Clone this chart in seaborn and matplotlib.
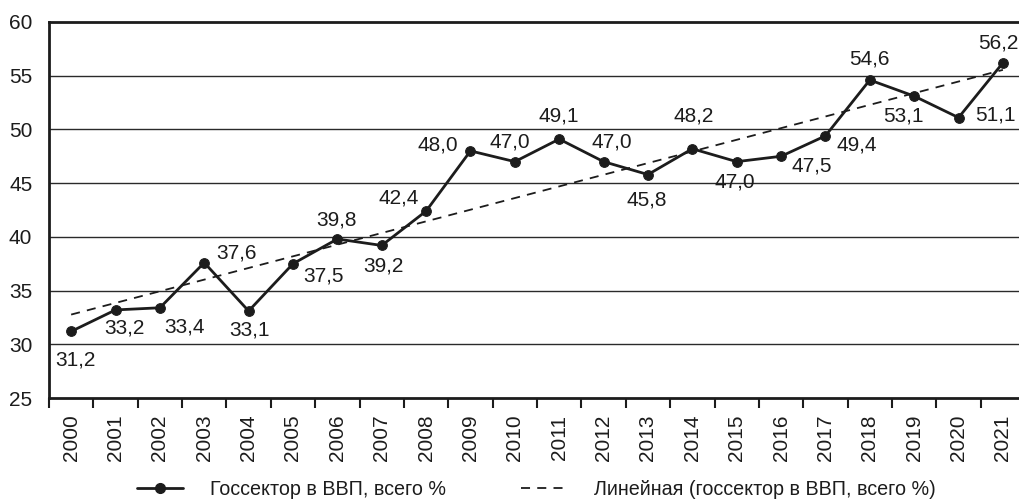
import numpy as np
import pandas as pd
import matplotlib
matplotlib.use("Agg")
import matplotlib.pyplot as plt
import seaborn as sns
from matplotlib.lines import Line2D

sns.set_theme(style="white")
plt.rcParams["font.family"] = ["Liberation Sans", "DejaVu Sans"]

years = list(range(2000, 2022))
share = [31.2, 33.2, 33.4, 37.6, 33.1, 37.5, 39.8, 39.2, 42.4, 48.0, 47.0,
         49.1, 47.0, 45.8, 48.2, 47.0, 47.5, 49.4, 54.6, 53.1, 51.1, 56.2]
labels = [f"{v:.1f}".replace(".", ",") for v in share]

# label offsets (pixels) relative to each point
label_dx = [4, 9, 25, 32, 1, 31, -1, 2, -27, -33, -5, 0, 8, -1, 1, -2, 31, 31, 0, -11, 37, -5]
label_dy = [-29, -18, -19, 10, -19, -12, 19, -21, 13, 6, 20, 23, 20, -25, 33, -20, -10, -9, 21, -20, 3, 20]

df = pd.DataFrame({"year": years, "share": share})
ink = "#1c1c1c"
fs = 15

fig = plt.figure(figsize=(10.2, 5.03), dpi=100)
ax = fig.add_axes([0.048, 0.2087, 0.957, 0.7476])

# horizontal grid
for g in [30, 35, 40, 45, 50, 55]:
    ax.axhline(g, color="#2a2a2a", lw=1.0, zorder=0)

# linear trend
coef = np.polyfit(df["year"], df["share"], 1)
trend = np.polyval(coef, df["year"])
sns.lineplot(x=df["year"], y=trend, ax=ax, color=ink, lw=1.3,
             linestyle=(0, (5, 4)), zorder=2)

sns.lineplot(data=df, x="year", y="share", ax=ax, color=ink, lw=2.0,
             marker="o", markersize=7, markeredgecolor=ink, zorder=3)

for x, y, t, dx, dy in zip(years, share, labels, label_dx, label_dy):
    ax.annotate(t, (x, y), xytext=(dx, dy), textcoords="offset pixels",
                ha="center", va="center", fontsize=fs, color=ink)

ax.set_xlim(1999.5, 2021.5)
ax.set_ylim(25, 60)
ax.set_yticks(range(25, 61, 5))
ax.set_xticks(years)
ax.set_xticklabels([str(y) for y in years], rotation=90, fontsize=fs, color=ink)
ax.set_xticks(np.arange(1999.5, 2021.6, 1), minor=True)
ax.tick_params(axis="x", which="major", length=0, pad=12)
ax.tick_params(axis="x", which="minor", length=7, width=1.5, color=ink, direction="out", bottom=True)
ax.tick_params(axis="y", length=0, pad=12, labelsize=fs, labelcolor=ink)
ax.set_xlabel("")
ax.set_ylabel("")

for side in ["left", "bottom", "top"]:
    ax.spines[side].set_visible(True)
    ax.spines[side].set_color(ink)
    ax.spines[side].set_linewidth(2.0)
ax.spines["right"].set_visible(False)

handles = [
    Line2D([], [], color=ink, lw=2.0, marker="o", markersize=7),
    Line2D([], [], color=ink, lw=1.3, linestyle=(0, (5, 4))),
]
fig.legend(handles, ["Госсектор в ВВП, всего %", "Линейная (госсектор в ВВП, всего %)"],
           loc="center left", bbox_to_anchor=(0.134, 0.027), ncol=2, frameon=False,
           borderpad=0, borderaxespad=0,
           fontsize=14.2, handlelength=2.33, handletextpad=1.37, columnspacing=3.8,
           labelcolor=ink)

fig.savefig("out.png", dpi=100)
